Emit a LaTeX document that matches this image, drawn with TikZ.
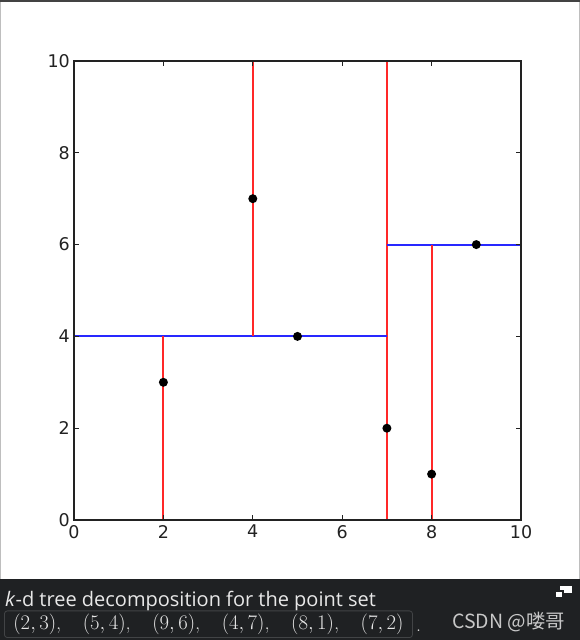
\documentclass[tikz,border=0pt]{standalone}
\usepackage{fontspec}
\newfontfamily\tickfont{DejaVu Sans}
\newfontfamily\capfont{Open Sans}
\newfontfamily\cjkfont{Noto Sans CJK SC}
\usetikzlibrary{positioning}
\definecolor{cred}{RGB}{255,40,40}
\definecolor{cblue}{RGB}{40,40,255}
\definecolor{cframe}{RGB}{34,34,34}
\definecolor{cband}{RGB}{31,33,35}
\definecolor{cboxline}{RGB}{66,68,70}
\definecolor{ctext}{RGB}{232,232,232}
\definecolor{cmark}{RGB}{200,200,200}
\definecolor{cedge}{RGB}{190,190,190}
\tikzset{
  frame/.style={draw=cframe, line width=1.4pt},
  axtick/.style={draw=cframe, line width=1pt},
  vsplit/.style={draw=cred, line width=2pt},
  hsplit/.style={draw=cblue, line width=2pt},
  kdpt/.style={circle, fill=black, inner sep=0pt, minimum size=9pt},
  ticklab/.style={font=\tickfont\fontsize{17.5}{17.5}\selectfont, text=cframe, inner sep=1pt},
  captext/.style={font=\capfont\fontsize{20}{20}\selectfont, text=ctext, inner sep=0pt, anchor=base west},
  setbox/.style={draw=cboxline, rounded corners=3pt, line width=0.8pt, fill=cband,
    text=ctext, font=\fontsize{20.5}{20.5}\selectfont, inner xsep=9pt, inner ysep=3pt},
  wmark/.style={font=\cjkfont\fontsize{19.5}{19.5}\selectfont, text=cmark, inner sep=0pt, anchor=base west}
}

\begin{document}
\begin{tikzpicture}[x=1pt, y=1pt]
  \useasboundingbox (0,0) rectangle (580,640);
  \fill[white] (0,0) rectangle (580,640);

  %% ---- window edges ----------------------------------------------
  \fill[cframe!85] (0,638) rectangle (580,640);
  \draw[cedge, line width=1pt] (0.5,61) -- (0.5,638);
  \draw[cedge, line width=1pt] (579,61) -- (579,638);

  %% ---- plot --------------------------------------------------------
  \begin{scope}[shift={(74pt,120pt)}, x=44.7pt, y=45.9pt]
    % splitting lines
    \draw[vsplit] (7,0) -- (7,10);
    \draw[hsplit] (0,4) -- (7,4);
    \draw[vsplit] (2,0) -- (2,4);
    \draw[vsplit] (4,4) -- (4,10);
    \draw[hsplit] (7,6) -- (10,6);
    \draw[vsplit] (8,0) -- (8,6);

    % axes box and ticks
    \draw[frame] (0,0) rectangle (10,10);
    \foreach \v in {2,4,6,8} {
      \draw[axtick] (\v,0) -- ++(0,5pt);
      \draw[axtick] (\v,10) -- ++(0,-5pt);
      \draw[axtick] (0,\v) -- ++(5pt,0);
      \draw[axtick] (10,\v) -- ++(-5pt,0);
    }
    \foreach \v in {0,2,...,10} {
      \node[ticklab, below=4pt] (xl\v) at (\v,0) {\v};
      \node[ticklab, left=3pt] (yl\v) at (0,\v) {\v};
    }

    % the point set
    \node[kdpt] (p23) at (2,3) {};
    \node[kdpt] (p54) at (5,4) {};
    \node[kdpt] (p96) at (9,6) {};
    \node[kdpt] (p47) at (4,7) {};
    \node[kdpt] (p81) at (8,1) {};
    \node[kdpt] (p72) at (7,2) {};
  \end{scope}

  %% ---- caption band ------------------------------------------------
  \fill[cband] (0,0) rectangle (580,61);
  \node[captext] (cap) at (5,34) {\textit{k}-d tree decomposition for the point set};
  \node[setbox, anchor=south west] (pset) at (4,2)
    {$(2,3)$,\hspace{1.05em}$(5,4)$,\hspace{1.05em}$(9,6)$,\hspace{1.05em}$(4,7)$,\hspace{1.05em}$(8,1)$,\hspace{1.05em}$(7,2)$};
  \node[text=ctext, inner sep=0pt, anchor=base west, font=\fontsize{20}{20}\selectfont]
    (dot) at ([xshift=3pt]pset.east |- 0,9) {.};
  \node[wmark] (mark) at (452,12) {CSDN @喽哥};

  % window icon
  \draw[cband, fill=white, line width=1pt] (559,46) rectangle (572,54);
  \draw[cband, fill=white, line width=1.2pt] (555,42) rectangle (563,49);
\end{tikzpicture}
\end{document}
